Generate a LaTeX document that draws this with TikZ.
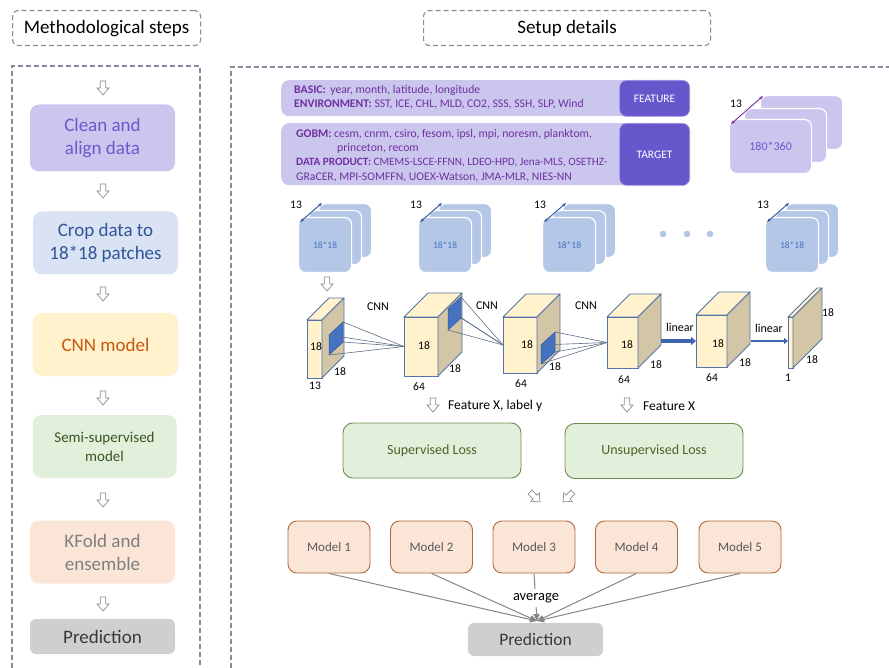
\documentclass[tikz,border=0pt]{standalone}
\usepackage{fontspec}
\setmainfont{Carlito}
\usetikzlibrary{arrows.meta}

\definecolor{frame}{HTML}{838C9A}
\definecolor{lav}{HTML}{CAC6EE}
\definecolor{lavtext}{HTML}{6A5ACD}
\definecolor{deeplav}{HTML}{6657CC}
\definecolor{deeplavedge}{HTML}{A49BE3}
\definecolor{purpletext}{HTML}{7030A0}
\definecolor{paleblue}{HTML}{DAE3F3}
\definecolor{navytext}{HTML}{2F5597}
\definecolor{cream}{HTML}{FFF2CC}
\definecolor{orangetext}{HTML}{C55A11}
\definecolor{palegreen}{HTML}{E2EFDA}
\definecolor{greentext}{HTML}{375623}
\definecolor{peach}{HTML}{FBE5D6}
\definecolor{greytext}{HTML}{7F7F7F}
\definecolor{silver}{HTML}{D0CECE}
\definecolor{darktext}{HTML}{3B3838}
\definecolor{patchblue}{HTML}{B4C7E7}
\definecolor{patchtext}{HTML}{4472C4}
\definecolor{cubeside}{HTML}{D3C6A6}
\definecolor{cubeedge}{HTML}{5473A8}
\definecolor{kernel}{HTML}{4472C4}
\definecolor{rayline}{HTML}{5E6E87}
\definecolor{linblue}{HTML}{3F65AE}
\definecolor{losstext}{HTML}{4F6228}
\definecolor{lossedge}{HTML}{6F8A4C}
\definecolor{modeledge}{HTML}{B0683F}
\definecolor{modeltext}{HTML}{595959}
\definecolor{avgline}{HTML}{858585}
\definecolor{hollowedge}{HTML}{8C8C8C}

\tikzset{
  hdr/.style={draw=frame, dash pattern=on 5pt off 3pt, line width=1.1pt,
    rounded corners=6pt, inner sep=0pt, font=\fontsize{19}{23}\selectfont},
  container/.style={draw=frame, dash pattern=on 5pt off 3pt, line width=1.1pt},
  stepbox/.style={rounded corners=9pt, align=center, inner sep=0pt,
    font=\fontsize{19}{23}\selectfont},
  band/.style={fill=lav, rounded corners=8pt, inner sep=0pt},
  tag/.style={fill=deeplav, draw=deeplavedge, dash pattern=on 1.5pt off 1pt,
    line width=0.8pt, rounded corners=7pt, text=white, inner sep=0pt,
    font=\fontsize{11.5}{14}\selectfont},
  bandtxt/.style={anchor=west, text=purpletext, inner sep=0pt,
    font=\fontsize{11.7}{14}\selectfont},
  sheet/.style={draw=white, line width=1.2pt, rounded corners=7pt, inner sep=0pt},
  dimtxt/.style={inner sep=0pt, font=\fontsize{11.5}{14}\selectfont},
  cubefront/.style={draw=cubeedge, fill=cream, line width=0.9pt, inner sep=0pt, outer sep=0pt},
  cubeline/.style={draw=cubeedge, line width=0.9pt, line join=round},
  ray/.style={draw=rayline, line width=0.6pt},
  lossbox/.style={fill=palegreen, draw=lossedge, line width=0.9pt, rounded corners=10pt,
    minimum width=178, minimum height=55, inner sep=0pt, text=losstext,
    font=\fontsize{14}{17}\selectfont},
  modelbox/.style={fill=peach, draw=modeledge, line width=0.9pt, rounded corners=9pt,
    minimum width=82, minimum height=52, inner sep=0pt, text=modeltext,
    font=\fontsize{13}{16}\selectfont},
  avgarrow/.style={draw=avgline, line width=1pt, -{Triangle[length=7pt,width=6pt]}},
  hollow/.pic={\draw[hollowedge, fill=white, line width=0.7pt, line join=miter]
    (-2.8,-7) -- (2.8,-7) -- (2.8,0) -- (6,0) -- (0,7) -- (-6,0) -- (-2.8,0) -- cycle;}
}

% a 3-D feature block: name, left, top, width, height, depth
\newcommand\cnnblock[6]{%
  \node[cubefront, minimum width=#4, minimum height=#5, anchor=north west] (#1) at (#2,#3) {};
  \draw[cubeline, fill=cream] (#1.north west) -- ++(#6,-#6) -- ++(#4,0) -- (#1.north east) -- cycle;
  \draw[cubeline, fill=cubeside] (#1.north east) -- ++(#6,-#6) -- ++(0,#5) -- (#1.south east) -- cycle;
}

\begin{document}
\begin{tikzpicture}[x=1pt,y=-1pt]
\useasboundingbox (0,0) rectangle (889,668);

% ---------- headers and frames ----------
\node[hdr, minimum width=188, minimum height=35, anchor=north west] (lefthdr) at (12,10) {Methodological steps};
\node[hdr, minimum width=287, minimum height=35, anchor=north west] (righthdr) at (423,10) {Setup details};
\draw[container] (12,668) -- (12,66) -- (200,66) -- (200,668);
\draw[container] (231,668) -- (231,67) -- (889,67);

% ---------- methodological steps ----------
\node[stepbox, fill=lav, text=lavtext, minimum width=145, minimum height=67] (clean) at (102.5,138) {Clean and\\align data};
\node[stepbox, fill=paleblue, text=navytext, minimum width=145, minimum height=63] (crop) at (105.5,243) {Crop data to\\18*18 patches};
\node[stepbox, fill=cream, text=orangetext, minimum width=145, minimum height=63] (cnnstep) at (105.5,344.5) {CNN model};
\node[stepbox, fill=palegreen, text=greentext, minimum width=144, minimum height=63,
  font=\fontsize{15}{19}\selectfont] (semi) at (104.5,446.5) {Semi-supervised\\model};
\node[stepbox, fill=peach, text=greytext, minimum width=145, minimum height=63] (kfold) at (102.5,552) {KFold and\\ensemble};
\node[stepbox, fill=silver, text=darktext, minimum width=145, minimum height=35, rounded corners=6pt] (predstep) at (102.5,636.5) {Prediction};
\foreach \yy in {88,191,294,398,500,604} \pic at (103,\yy) {hollow};

% ---------- input variables ----------
\node[band, minimum width=409, minimum height=36, anchor=north west] (featband) at (281,80) {};
\node[tag, minimum width=70, minimum height=36, anchor=north east] (feattag) at (690,80) {FEATURE};
\node[band, minimum width=409, minimum height=62, anchor=north west] (targband) at (281,123) {};
\node[tag, minimum width=70, minimum height=62, anchor=north east] (targtag) at (690,123) {TARGET};

\node[bandtxt] (basic) at (294,90) {\textbf{BASIC:}\, year, month, latitude, longitude};
\node[bandtxt] (env) at (294,104.5) {\textbf{ENVIRONMENT:} SST, ICE, CHL, MLD, CO2, SSS, SSH, SLP, Wind};
\node[bandtxt] (gobm) at (296,134.5) {\textbf{GOBM:} cesm, cnrm, csiro, fesom, ipsl, mpi, noresm, planktom,};
\node[bandtxt] (gobmb) at (337,148.5) {princeton, recom};
\node[bandtxt, font=\fontsize{11.2}{14}\selectfont] (dprod) at (296,163) {\textbf{DATA PRODUCT:} CMEMS-LSCE-FFNN, LDEO-HPD, Jena-MLS, OSETHZ-};
\node[bandtxt] (dprodb) at (296,177) {GRaCER, MPI-SOMFFN, UOEX-Watson, JMA-MLR, NIES-NN};

% ---------- global grid stack ----------
\node[sheet, fill=lav, minimum width=82, minimum height=54, anchor=north west] (gback) at (760,95) {};
\node[sheet, fill=lav, minimum width=82, minimum height=54, anchor=north west] (gmid) at (744,108) {};
\node[sheet, fill=lav, minimum width=82, minimum height=54, anchor=north west, text=lavtext,
  font=\fontsize{12}{14}\selectfont] (gfront) at (729,119) {180*360};
\coordinate (gdimA) at (731,124);
\coordinate (gdimB) at (763,96);
\draw[purpletext, line width=0.9pt, {Stealth[length=4pt]}-{Stealth[length=4pt]}] (gdimA) -- (gdimB);
\node[dimtxt] (gdimlbl) at (736,104) {13};

% ---------- patch stacks ----------
\foreach \fx/\nm in {298/pa,418/pb,542/pc,765/pd} {
  \node[sheet, fill=patchblue, minimum width=53, minimum height=54, anchor=north west] (\nm back) at (\fx+20,203) {};
  \node[sheet, fill=patchblue, minimum width=53, minimum height=54, anchor=north west] (\nm mid) at (\fx+10,210) {};
  \node[sheet, fill=patchblue, minimum width=53, minimum height=55, anchor=north west, text=patchtext,
    font=\fontsize{9.5}{11}\selectfont] (\nm) at (\fx,217) {18*18};
  \draw[navytext, line width=0.9pt, {Stealth[length=4pt]}-{Stealth[length=4pt]}]
    ([shift={(2,5)}]\nm.north west) -- ([shift={(24,-14)}]\nm.north west);
  \node[dimtxt] (\nm lbl) at (\fx-2,205) {13};
}
\foreach \dx in {663,687,710} \fill[patchblue] (\dx,234) circle (3.3);
\pic at (327,284) {hollow};

% ---------- CNN blocks ----------
\cnnblock{cubeA}{307}{320}{15}{58}{22}
\cnnblock{cubeB}{404}{317}{34}{59}{24}
\cnnblock{cubeC}{503}{317}{34}{56}{23}
\cnnblock{cubeD}{607}{317}{31}{51}{23}
\cnnblock{cubeE}{696}{315}{31}{52}{23}
\cnnblock{slab}{788}{317}{5}{51}{29}

% convolution kernels and their receptive rays
\coordinate (kA1) at (329,335); \coordinate (kA2) at (343,322);
\coordinate (kA3) at (343,342); \coordinate (kA4) at (329,355);
\fill[kernel, draw=navytext, line width=0.5pt] (kA1) -- (kA2) -- (kA3) -- (kA4) -- cycle;
\foreach \k in {kA1,kA2,kA3,kA4} \draw[ray] (\k) -- (cubeB.west);

\coordinate (kB1) at (448,309); \coordinate (kB2) at (461,297);
\coordinate (kB3) at (461,318); \coordinate (kB4) at (448,330);
\fill[kernel, draw=navytext, line width=0.5pt] (kB1) -- (kB2) -- (kB3) -- (kB4) -- cycle;
\foreach \k in {kB1,kB2,kB3,kB4} \draw[ray] (\k) -- (cubeC.west);

\coordinate (kC1) at (541,345); \coordinate (kC2) at (555,332);
\coordinate (kC3) at (555,352); \coordinate (kC4) at (541,364);
\fill[kernel, draw=navytext, line width=0.5pt] (kC1) -- (kC2) -- (kC3) -- (kC4) -- cycle;
\foreach \k in {kC1,kC2,kC3,kC4} \draw[ray] (\k) -- (cubeD.west);

% linear layers
\draw[linblue, line width=3.5pt, -{Triangle[length=5pt,width=8pt]}]
  ([xshift=23pt]cubeD.east |- cubeE.west) -- (cubeE.west);
\draw[linblue, line width=2.2pt, -{Triangle[length=4pt,width=6pt]}]
  ([xshift=24pt]cubeE.east) -- (cubeE.east -| slab.west);

% block labels
\node[dimtxt] (lA1) at (316,347) {18};
\node[dimtxt] (lA2) at (340,372) {18};
\node[dimtxt] (lA3) at (315,386) {13};
\node[dimtxt] (lB1) at (424,346) {18};
\node[dimtxt] (lB2) at (455,369) {18};
\node[dimtxt] (lB3) at (419,387) {64};
\node[dimtxt] (lC1) at (527,345) {18};
\node[dimtxt] (lC2) at (555,367) {18};
\node[dimtxt] (lC3) at (521,384) {64};
\node[dimtxt] (lD1) at (627,345) {18};
\node[dimtxt] (lD2) at (656,365) {18};
\node[dimtxt] (lD3) at (624,380) {64};
\node[dimtxt] (lE1) at (718,344) {18};
\node[dimtxt] (lE2) at (745,363) {18};
\node[dimtxt] (lE3) at (712,378) {64};
\node[dimtxt] (lF1) at (828,313) {18};
\node[dimtxt] (lF2) at (812,360) {18};
\node[dimtxt] (lF3) at (788,378) {1};
\node[dimtxt, font=\fontsize{12}{14}\selectfont] (cnnA) at (378,307) {CNN};
\node[dimtxt, font=\fontsize{12}{14}\selectfont] (cnnB) at (487,306) {CNN};
\node[dimtxt, font=\fontsize{12}{14}\selectfont] (cnnC) at (586,306) {CNN};
\node[dimtxt, font=\fontsize{12}{14}\selectfont] (linA) at (680,327) {linear};
\node[dimtxt, font=\fontsize{12}{14}\selectfont] (linB) at (769,328) {linear};

% ---------- losses ----------
\pic at (433,405) {hollow};
\node[anchor=west, inner sep=0pt, font=\fontsize{13.5}{16}\selectfont] (supin) at (448,406) {Feature X, label y};
\pic at (627,405) {hollow};
\node[anchor=west, inner sep=0pt, font=\fontsize{13.5}{16}\selectfont] (unsupin) at (643,406) {Feature X};
\node[lossbox] (suploss) at (432,450.5) {Supervised Loss};
\node[lossbox] (unsuploss) at (654,451) {Unsupervised Loss};
\pic[rotate=45] at (535,497) {hollow};
\pic[rotate=-45] at (568,497) {hollow};

% ---------- ensemble ----------
\node[modelbox] (m1) at (329,547) {Model 1};
\node[modelbox] (m2) at (431.5,547) {Model 2};
\node[modelbox] (m3) at (534,547) {Model 3};
\node[modelbox] (m4) at (636.5,547) {Model 4};
\node[modelbox] (m5) at (740,547) {Model 5};
\node[fill=silver, rounded corners=6pt, minimum width=135, minimum height=33, inner sep=0pt,
  text=darktext, font=\fontsize{17.5}{21}\selectfont] (pred) at (535.5,639.5) {Prediction};
\coordinate (meet) at (537,621);
\foreach \m in {m1,m2,m3,m4,m5} \draw[avgarrow] (\m.south) -- (meet);
\node[fill=white, inner xsep=6pt, inner ysep=4pt, font=\fontsize{14.5}{17}\selectfont] (avg) at (536,598) {average};
\end{tikzpicture}
\end{document}
